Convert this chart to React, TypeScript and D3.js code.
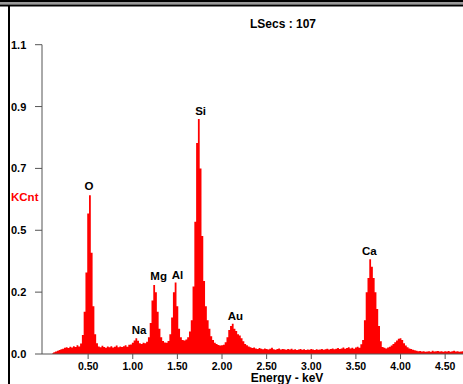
import React from 'react';
import * as d3 from 'd3';

// EDS spectrum, channel counts in KCnt, first channel at 0.10 keV, 0.02 keV per channel
const startKeV = 0.1;
const channelKeV = 0.02;
const counts = [
  0.004, 0.006, 0.009, 0.012, 0.014, 0.017, 0.019, 0.022, 0.024, 0.021,
  0.026, 0.023, 0.028, 0.025, 0.031, 0.027, 0.037, 0.068, 0.15, 0.29,
  0.5, 0.565, 0.36, 0.17, 0.07, 0.038, 0.027, 0.024, 0.029, 0.025,
  0.022, 0.027, 0.024, 0.028, 0.023, 0.026, 0.03, 0.024, 0.027, 0.025,
  0.028, 0.031, 0.026, 0.033, 0.034, 0.04, 0.048, 0.056, 0.047, 0.038,
  0.036, 0.04, 0.038, 0.044, 0.06, 0.11, 0.19, 0.245, 0.22, 0.15,
  0.09, 0.06, 0.046, 0.041, 0.04, 0.046, 0.07, 0.13, 0.22, 0.254,
  0.17, 0.09, 0.06, 0.05, 0.048, 0.052, 0.06, 0.08, 0.12, 0.24,
  0.47, 0.75, 0.836, 0.66, 0.42, 0.26, 0.17, 0.12, 0.09, 0.063,
  0.05, 0.04, 0.036, 0.032, 0.03, 0.031, 0.033, 0.042, 0.06, 0.085,
  0.1, 0.108, 0.09, 0.082, 0.07, 0.066, 0.056, 0.045, 0.036, 0.031,
  0.027, 0.024, 0.021, 0.023, 0.02, 0.018, 0.021, 0.019, 0.017, 0.02,
  0.018, 0.016, 0.019, 0.022, 0.017, 0.015, 0.018, 0.02, 0.016, 0.018,
  0.017, 0.015, 0.018, 0.016, 0.019, 0.015, 0.017, 0.014, 0.016, 0.018,
  0.015, 0.017, 0.014, 0.016, 0.015, 0.018, 0.016, 0.014, 0.017, 0.015,
  0.016, 0.018, 0.015, 0.017, 0.019, 0.016, 0.018, 0.02, 0.017, 0.019,
  0.021, 0.018, 0.02, 0.023, 0.019, 0.021, 0.024, 0.02, 0.022, 0.019,
  0.023, 0.026, 0.022, 0.035, 0.05, 0.12, 0.22, 0.27, 0.337, 0.31,
  0.27, 0.22, 0.16, 0.1, 0.045, 0.025, 0.022, 0.02, 0.023, 0.026,
  0.03, 0.036, 0.042, 0.048, 0.054, 0.056, 0.05, 0.038, 0.03, 0.024,
  0.02, 0.018, 0.015, 0.013, 0.012, 0.01, 0.011, 0.009, 0.01, 0.008,
  0.009, 0.01, 0.008, 0.012, 0.009, 0.01, 0.011, 0.009, 0.01, 0.008,
  0.01, 0.009, 0.011, 0.008, 0.01, 0.012, 0.009, 0.01, 0.008, 0.009,
  0.01,
];

const elements = ['O', 'Na', 'Mg', 'Al', 'Si', 'Au', 'Ca'];
const elementKeV = [0.51, 1.07, 1.29, 1.5, 1.76, 2.15, 3.65];
const elementHeight = [0.569, 0.056, 0.249, 0.254, 0.836, 0.108, 0.337];

const xTicks = [0.5, 1.0, 1.5, 2.0, 2.5, 3.0, 3.5, 4.0, 4.5];
const yTicks = [0, 0.22, 0.44, 0.66, 0.88, 1.1];
const yTickLabels = ['0.0', '0.2', '0.5', '0.7', '0.9', '1.1'];

const W = 463;
const H = 384;
const font = '"Liberation Sans", Arial, sans-serif';

export default function App() {
  const x = d3.scaleLinear().domain([0, 4.7]).range([43.5, 463]);
  const y = d3.scaleLinear().domain([0, 1.1]).range([354, 44.7]);

  const pts = counts.map((c, i) => ({ e: startKeV + i * channelKeV, c }));
  const area = d3
    .area<{ e: number; c: number }>()
    .x(d => x(d.e))
    .y0(y(0))
    .y1(d => y(d.c))
    .curve(d3.curveStep);

  const axisColor = '#555';

  return (
    <svg
      width={W}
      height={H}
      style={{ position: 'absolute', left: 0, top: 0, background: '#fff' }}
      fontFamily={font}
      fontWeight="bold"
    >
      {/* window frame */}
      <rect x={0} y={0} width={W} height={2} fill="#000" />
      <rect x={0} y={2} width={W} height={2.5} fill="#999" />
      <rect x={0} y={4.5} width={W} height={2} fill="#000" />
      <rect x={8} y={6} width={2} height={H - 6} fill="#000" />

      <text x={283} y={28} fontSize={12} textAnchor="middle">
        LSecs : 107
      </text>

      {/* spectrum */}
      <path d={area(pts) || ''} fill="#ff0000" />

      {/* y axis */}
      <line x1={42} x2={42} y1={y(1.1)} y2={y(0)} stroke={axisColor} strokeWidth={1} />
      {yTicks.map((t, i) => (
        <g key={t}>
          <line x1={35} x2={42} y1={y(t)} y2={y(t)} stroke={axisColor} strokeWidth={1} />
          <text x={11} y={y(t) + 4} fontSize={11}>
            {yTickLabels[i]}
          </text>
        </g>
      ))}
      <text x={11} y={200.5} fontSize={11.5} fill="#ff0000">
        KCnt
      </text>

      {/* x axis */}
      <line x1={42} x2={W} y1={y(0)} y2={y(0)} stroke={axisColor} strokeWidth={1} />
      {xTicks.map(t => (
        <g key={t}>
          <line x1={x(t)} x2={x(t)} y1={y(0)} y2={y(0) + 5} stroke={axisColor} strokeWidth={1} />
          <text x={x(t)} y={370} fontSize={10.5} textAnchor="middle">
            {t.toFixed(2)}
          </text>
        </g>
      ))}
      <text x={287} y={382} fontSize={12} textAnchor="middle">
        Energy - keV
      </text>

      {/* peak labels */}
      {elements.map((el, i) => (
        <text
          key={el}
          x={x(elementKeV[i])}
          y={y(elementHeight[i]) - 4}
          fontSize={11.5}
          textAnchor="middle"
        >
          {el}
        </text>
      ))}
    </svg>
  );
}
